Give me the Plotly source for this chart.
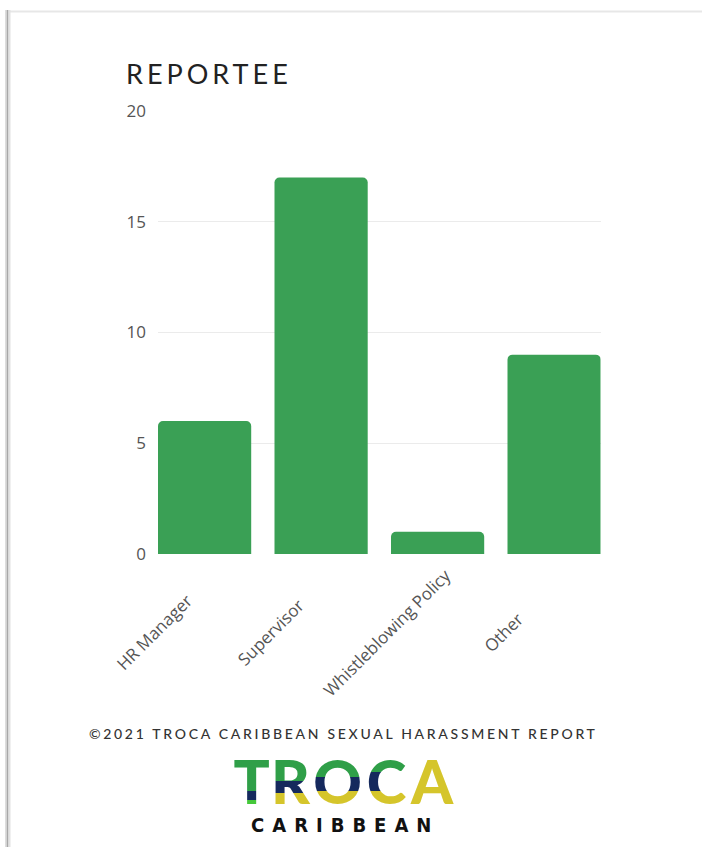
import plotly.graph_objects as go

# Page size in pixels
W, H = 702, 847

# ---- data ----
categories = ["HR Manager", "Supervisor", "Whistleblowing Policy", "Other"]
counts = [6, 17, 1, 9]
y_ticks = [0, 5, 10, 15, 20]

chart_title = "REPORTEE"
footer_text = "©2021 TROCA CARIBBEAN SEXUAL HARASSMENT REPORT"
logo_letters = ["T", "R", "O", "C", "A"]
logo_sub = "CARIBBEAN"

# ---- style ----
BAR_GREEN = "#3aa055"
GRID = "#ebebeb"
TICK_GREY = "#555555"
G, N, Y, LG = "#2f9f48", "#15295d", "#d5c52b", "#45c83a"


def px_x(x):
    return x / W


def px_y(y):
    return 1 - y / H


fig = go.Figure()

fig.add_trace(go.Bar(
    x=categories, y=counts,
    marker=dict(color=BAR_GREEN, line=dict(width=0)),
    hoverinfo="skip", showlegend=False,
))

# ---- logo: coloured horizontal bands of the wordmark, each band clipped to its own axis ----
letter_x = [251.5, 290.5, 337.5, 386.5, 432.0]
letter_y = 788.5
band_edges = [752, 772, 777, 781, 791, 793, 800, 814]
band_colors = [
    [G, G, G, G, Y],
    [G, G, G, N, Y],
    [G, G, N, N, Y],
    [G, N, N, N, Y],
    [N, N, Y, Y, Y],
    [N, Y, Y, Y, Y],
    [LG, Y, Y, Y, Y],
]
logo_x0, logo_x1 = 222, 465

axes_layout = {}
for i, colors in enumerate(band_colors):
    n = i + 2
    top, bot = band_edges[i], band_edges[i + 1]
    axes_layout[f"xaxis{n}"] = dict(domain=[px_x(logo_x0), px_x(logo_x1)],
                                    range=[logo_x0, logo_x1], visible=False,
                                    anchor=f"y{n}", fixedrange=True, automargin=False)
    axes_layout[f"yaxis{n}"] = dict(domain=[px_y(bot), px_y(top)],
                                    range=[bot, top], visible=False,
                                    anchor=f"x{n}", fixedrange=True, automargin=False)
    fig.add_trace(go.Scatter(
        x=letter_x, y=[letter_y] * len(letter_x), mode="text", text=logo_letters,
        textposition="middle center",
        textfont=dict(family="Lato", size=60, weight=900, color=colors),
        cliponaxis=True, hoverinfo="skip", showlegend=False,
        xaxis=f"x{n}", yaxis=f"y{n}",
    ))

fig.update_layout(**axes_layout)

# ---- page frame (soft edge on the left and top) ----
shapes = [
    dict(type="line", xref="paper", yref="paper", x0=px_x(9), x1=px_x(W), y0=px_y(11.5), y1=px_y(11.5),
         line=dict(color="#e7e7e7", width=2)),
    dict(type="line", xref="paper", yref="paper", x0=px_x(5.5), x1=px_x(5.5), y0=px_y(10), y1=0,
         line=dict(color="#dddddd", width=1)),
    dict(type="line", xref="paper", yref="paper", x0=px_x(7.5), x1=px_x(7.5), y0=px_y(10), y1=0,
         line=dict(color="#a8a8a8", width=2)),
    dict(type="line", xref="paper", yref="paper", x0=px_x(9.5), x1=px_x(9.5), y0=px_y(10), y1=0,
         line=dict(color="#e2e2e2", width=2)),
]

annotations = [
    dict(text=chart_title, xref="paper", yref="paper", x=px_x(124), y=px_y(73),
         xanchor="left", yanchor="middle", align="left", showarrow=False,
         font=dict(family="Lato", size=27, color="#222222")),
    dict(text=footer_text, xref="paper", yref="paper", x=px_x(343), y=px_y(733),
         xanchor="center", yanchor="middle", showarrow=False,
         font=dict(family="Lato", size=14, color="#333333", weight=500)),
    dict(text=logo_sub, xref="paper", yref="paper", x=px_x(345), y=px_y(825),
         xanchor="center", yanchor="middle", showarrow=False,
         font=dict(family="Liberation Sans Narrow, DejaVu Sans Condensed", size=20,
                   color="#111111", weight=700)),
]

# category labels: rotated -45 degrees and centred below each bar slot
for i, cat in enumerate(categories):
    annotations.append(dict(
        text=cat, xref="x", yref="paper", x=i, y=px_y(632), xshift=-51,
        xanchor="center", yanchor="middle", textangle=-45, showarrow=False,
        font=dict(family="Open Sans", size=17, color=TICK_GREY),
    ))

fig.update_layout(
    width=W, height=H,
    margin=dict(l=0, r=0, t=0, b=0, autoexpand=False),
    paper_bgcolor="white", plot_bgcolor="white",
    bargap=0.2,
    barcornerradius=5,
    showlegend=False,
    shapes=shapes,
    annotations=annotations,
    xaxis=dict(
        domain=[px_x(158), px_x(600.7)],
        range=[-0.4, 3.4],
        showticklabels=False,
        showgrid=False, showline=False, zeroline=False,
        ticks="",
        fixedrange=True,
        automargin=False,
    ),
    yaxis=dict(
        domain=[px_y(554), px_y(111)],
        range=[0, 20],
        tickvals=y_ticks,
        showgrid=True, gridcolor=GRID, gridwidth=1,
        showline=False, zeroline=False,
        ticks="",
        ticklabelstandoff=11,
        tickfont=dict(family="Open Sans", size=17, color=TICK_GREY),
        fixedrange=True,
        automargin=False,
    ),
)

# letter spacing for the title, footer and logo subtitle
spacing_js = """
var spacing = {'0': '4px', '1': '2.7px', '2': '8px'};
document.querySelectorAll('g.annotation').forEach(function (g) {
  var s = spacing[g.getAttribute('data-index')];
  if (s) {
    g.querySelectorAll('text').forEach(function (t) { t.style.letterSpacing = s; });
  }
});
"""

fig.write_html("out.html", config={"displayModeBar": False}, post_script=spacing_js)
